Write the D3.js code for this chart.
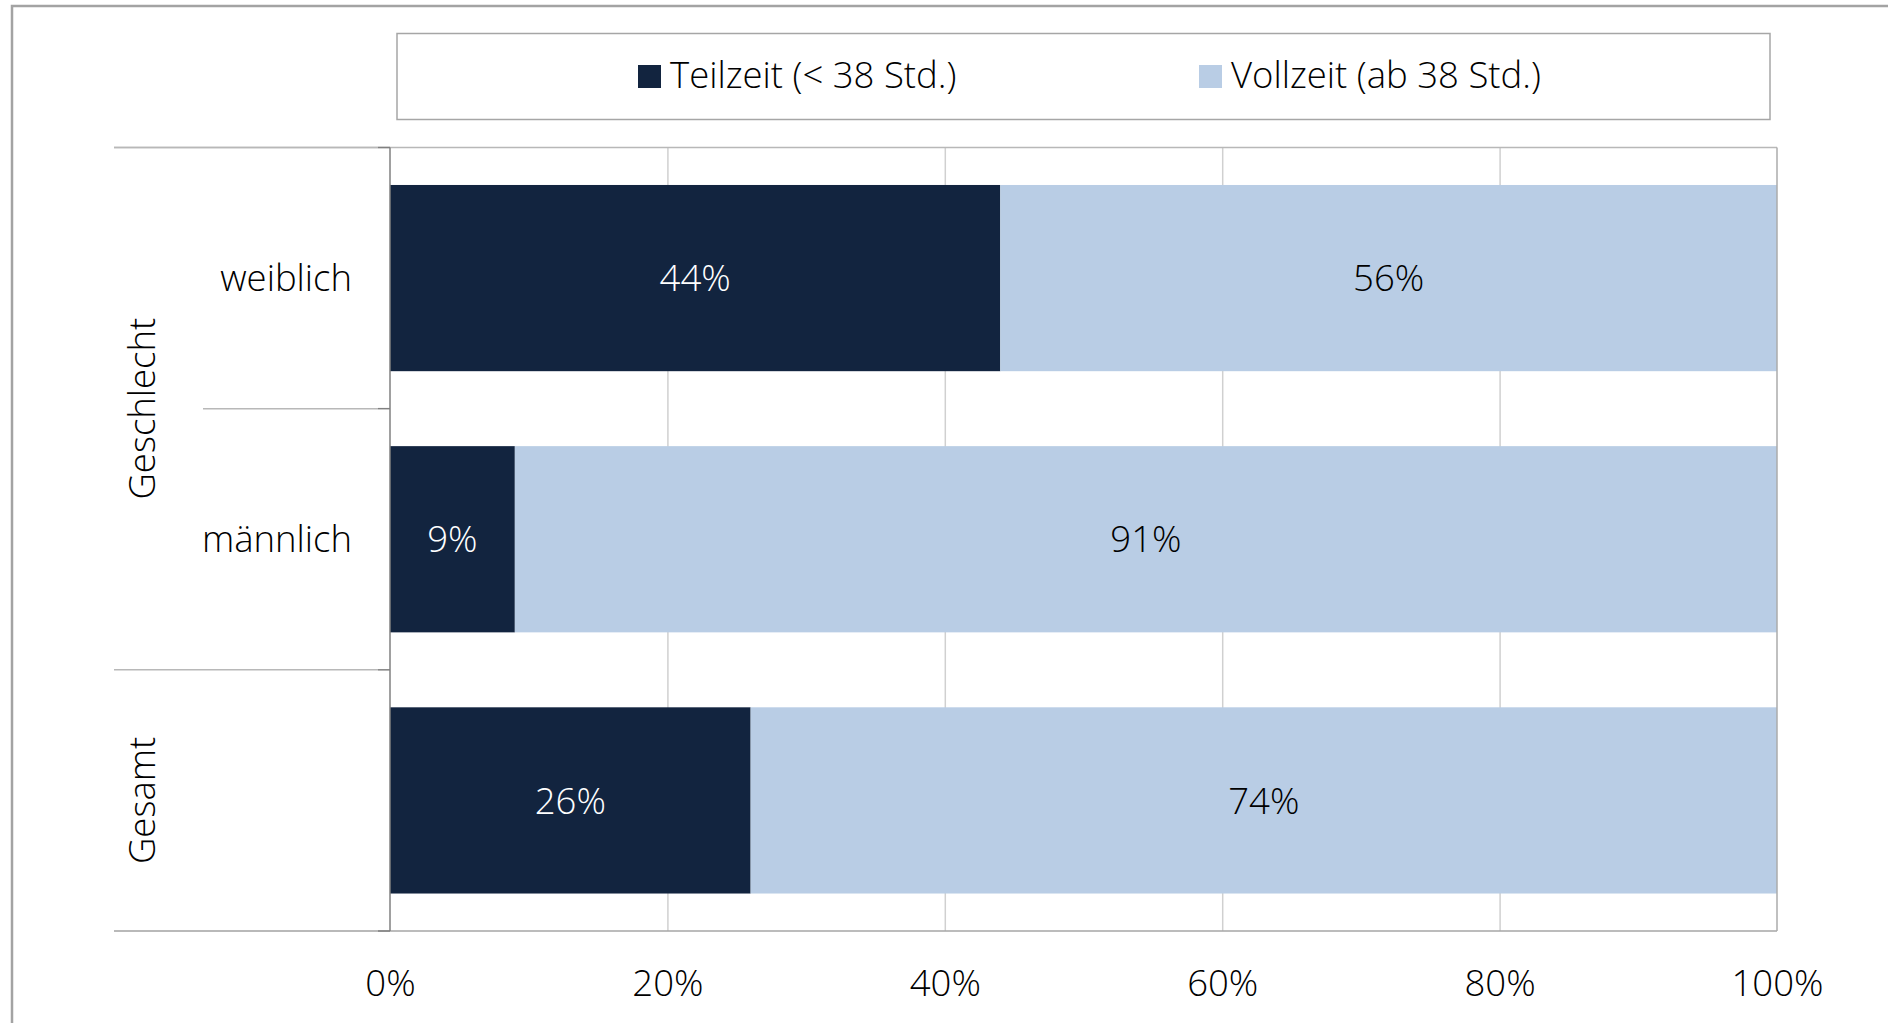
<!DOCTYPE html>
<html>
<head>
<meta charset="utf-8">
<script src="https://cdn.jsdelivr.net/npm/d3@7"></script>
<style>
  html, body { margin: 0; padding: 0; background: #fff; }
  svg { display: block; }
  text { font-family: "Open Sans", "Noto Sans", sans-serif; font-weight: 300; }
</style>
</head>
<body>
<svg id="chart" width="1888" height="1023"></svg>
<script>
// ---- data ----
const categories = ["weiblich", "männlich", "Gesamt"];
const categoryLabels = ["weiblich", "männlich", ""];
const groups = ["Geschlecht", "Gesamt"];
const groupMembers = [["weiblich", "männlich"], ["Gesamt"]];
const seriesNames = ["Teilzeit (< 38 Std.)", "Vollzeit (ab 38 Std.)"];
const teilzeit = [0.44, 0.09, 0.26];
const vollzeit = [0.56, 0.91, 0.74];
const xTicks = [0, 0.2, 0.4, 0.6, 0.8, 1.0];
const xTickLabels = ["0%", "20%", "40%", "60%", "80%", "100%"];

// ---- layout ----
const W = 1888, H = 1023;
const plot = { left: 390, right: 1777, top: 147.5, bottom: 931 };
const colors = ["#12243f", "#b9cde5"];
const labelColors = ["#ffffff", "#000000"];
const FS = 36.5;
const TXT = "#000000";

const svg = d3.select("#chart");

// outer frame
svg.append("path")
  .attr("d", `M12,${H} L12,6 L${W},6`)
  .attr("fill", "none").attr("stroke", "#a3a3a3").attr("stroke-width", 2.5);

const x = d3.scaleLinear().domain([0, 1]).range([plot.left, plot.right]);
const y = d3.scaleBand().domain(categories).range([plot.top, plot.bottom])
  .paddingInner(0.287).paddingOuter(0.1435);

// gridlines
const grid = svg.append("g").attr("transform", `translate(0,${plot.bottom})`)
  .call(d3.axisBottom(x).tickValues(xTicks.slice(1, -1)).tickSize(-(plot.bottom - plot.top)).tickFormat(""));
grid.select(".domain").remove();
grid.selectAll("line").attr("stroke", "#d0d0d0").attr("stroke-width", 1.5);

// stacked data
const stackData = categories.map((c, i) => ({ cat: c, s0: teilzeit[i], s1: vollzeit[i] }));
const stack = d3.stack().keys(["s0", "s1"])(stackData);

const layers = svg.append("g").selectAll("g").data(stack).join("g")
  .attr("fill", (d, i) => colors[i]);
layers.selectAll("rect").data(d => d).join("rect")
  .attr("x", d => x(d[0]))
  .attr("y", d => y(d.data.cat))
  .attr("width", d => x(d[1]) - x(d[0]))
  .attr("height", y.bandwidth());

// bar labels
const lbl = svg.append("g");
stack.forEach((layer, li) => {
  lbl.selectAll(null).data(layer).join("text")
    .attr("x", d => (x(d[0]) + x(d[1])) / 2)
    .attr("y", d => y(d.data.cat) + y.bandwidth() / 2)
    .attr("dy", "0.36em")
    .attr("text-anchor", "middle")
    .attr("font-size", FS)
    .attr("fill", labelColors[li])
    .text(d => d3.format(".0%")(d[1] - d[0]));
});

// plot borders
const step = y.step(), off = (y.step() - y.bandwidth()) / 2;
const boundary = c => y(c) - off;
svg.append("line").attr("x1", 114).attr("x2", plot.right).attr("y1", plot.top).attr("y2", plot.top)
  .attr("stroke", "#b8b8b8").attr("stroke-width", 1.5);
svg.append("line").attr("x1", 114).attr("x2", plot.right).attr("y1", plot.bottom).attr("y2", plot.bottom)
  .attr("stroke", "#a6a6a6").attr("stroke-width", 1.5);
svg.append("line").attr("x1", plot.right).attr("x2", plot.right).attr("y1", plot.top).attr("y2", plot.bottom)
  .attr("stroke", "#ababab").attr("stroke-width", 1.5);

// category separators
const seps = [];
groupMembers.forEach((m, gi) => {
  m.forEach((c, ci) => {
    seps.push({ y: boundary(c), x1: ci === 0 ? 114 : 203 });
  });
});
seps.push({ y: plot.bottom, x1: 114 });
svg.append("g").selectAll("line").data(seps).join("line")
  .attr("x1", d => d.x1).attr("x2", plot.left - 12)
  .attr("y1", d => d.y).attr("y2", d => d.y)
  .attr("stroke", "#b8b8b8").attr("stroke-width", 1.5);
// tick marks
svg.append("g").selectAll("line").data(seps).join("line")
  .attr("x1", plot.left - 12).attr("x2", plot.left)
  .attr("y1", d => d.y).attr("y2", d => d.y)
  .attr("stroke", "#808080").attr("stroke-width", 1.5);
// left axis line
svg.append("line").attr("x1", plot.left).attr("x2", plot.left).attr("y1", plot.top).attr("y2", plot.bottom)
  .attr("stroke", "#808080").attr("stroke-width", 1.5);

// category labels
svg.append("g").selectAll("text").data(categories).join("text")
  .attr("x", 352)
  .attr("y", c => y(c) + y.bandwidth() / 2)
  .attr("dy", "0.36em")
  .attr("text-anchor", "end")
  .attr("font-size", FS)
  .attr("fill", TXT)
  .text((c, i) => categoryLabels[i]);

// group labels
svg.append("g").selectAll("text").data(groups).join("text")
  .attr("transform", (g, gi) => {
    const m = groupMembers[gi];
    const top = boundary(m[0]);
    const bot = boundary(m[m.length - 1]) + step;
    return `translate(155,${(top + bot) / 2}) rotate(-90)`;
  })
  .attr("text-anchor", "middle")
  .attr("font-size", FS)
  .attr("fill", TXT)
  .text(g => g);

// x axis labels
const ax = svg.append("g").attr("transform", `translate(0,${plot.bottom})`)
  .call(d3.axisBottom(x).tickValues(xTicks).tickSize(0).tickPadding(39)
    .tickFormat((d, i) => xTickLabels[i]));
ax.select(".domain").remove();
ax.selectAll("text").attr("font-size", FS).attr("fill", TXT)
  .attr("font-family", "'Open Sans', 'Noto Sans', sans-serif").attr("font-weight", 300);

// legend
svg.append("rect").attr("x", 397).attr("y", 33.5).attr("width", 1373).attr("height", 86)
  .attr("fill", "#fff").attr("stroke", "#a6a6a6").attr("stroke-width", 1.5);
const legendX = [638, 1199];
const lg = svg.append("g").selectAll("g").data(seriesNames).join("g")
  .attr("transform", (d, i) => `translate(${legendX[i]},65)`);
lg.append("rect").attr("width", 23).attr("height", 23).attr("fill", (d, i) => colors[i]);
lg.append("text").attr("x", 32).attr("y", 23)
  .attr("font-size", FS).attr("fill", TXT).text(d => d);
</script>
</body>
</html>
